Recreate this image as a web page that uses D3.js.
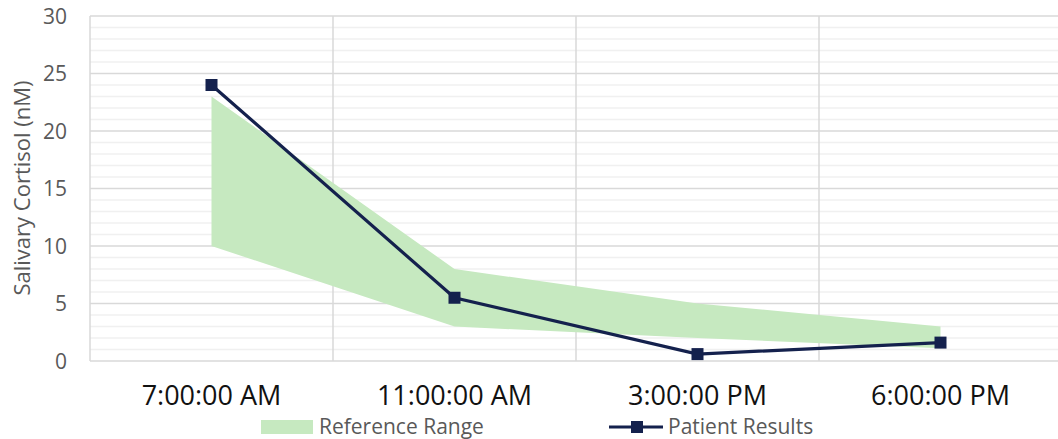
<!DOCTYPE html>
<html>
<head>
<meta charset="utf-8">
<script src="https://cdn.jsdelivr.net/npm/d3@7"></script>
<style>
  body { margin: 0; background: #fff; }
  svg { display: block; font-family: "Open Sans", "Noto Sans", sans-serif; }
</style>
</head>
<body>
<svg id="chart" width="1058" height="439"></svg>
<script>
const times = ['7:00:00 AM', '11:00:00 AM', '3:00:00 PM', '6:00:00 PM']
const refLow = [10, 3, 2, 1.1]
const refHigh = [23, 8, 5, 3]
const patient = [24, 5.5, 0.6, 1.6]
const yTicks = [0, 5, 10, 15, 20, 25, 30]

const svg = d3.select('#chart')
const plotLeft = 90, plotRight = 1062, plotTop = 16, plotBottom = 361

const x = d3.scaleBand().domain(times).range([plotLeft, plotRight])
const y = d3.scaleLinear().domain([0, 30]).range([plotBottom, plotTop])
const cx = t => x(t) + x.bandwidth() / 2

// minor grid
svg.append('g')
    .selectAll('line')
    .data(d3.range(0, 31).filter(v => v % 5 !== 0))
    .join('line')
    .attr('x1', plotLeft).attr('x2', 1058)
    .attr('y1', d => y(d)).attr('y2', d => y(d))
    .attr('stroke', '#f0f0f0').attr('stroke-width', 1.5)

// major grid
svg.append('g')
    .selectAll('line')
    .data(yTicks)
    .join('line')
    .attr('x1', plotLeft).attr('x2', 1058)
    .attr('y1', d => y(d)).attr('y2', d => y(d))
    .attr('stroke', '#d9d9d9').attr('stroke-width', 1.5)

// vertical grid at category boundaries
svg.append('g')
    .selectAll('line')
    .data(times)
    .join('line')
    .attr('x1', d => x(d)).attr('x2', d => x(d))
    .attr('y1', plotTop).attr('y2', plotBottom)
    .attr('stroke', '#d9d9d9').attr('stroke-width', 1.5)

// reference range band
const area = d3.area()
    .x((d, i) => cx(times[i]))
    .y0((d, i) => y(refLow[i]))
    .y1((d, i) => y(refHigh[i]))
svg.append('path')
    .datum(times)
    .attr('d', area)
    .attr('fill', '#c6e9c0')

// patient line
const line = d3.line()
    .x((d, i) => cx(times[i]))
    .y(d => y(d))
svg.append('path')
    .datum(patient)
    .attr('d', line)
    .attr('fill', 'none')
    .attr('stroke', '#14214d')
    .attr('stroke-width', 3.2)

svg.append('g')
    .selectAll('rect')
    .data(patient)
    .join('rect')
    .attr('x', (d, i) => cx(times[i]) - 6)
    .attr('y', d => y(d) - 6)
    .attr('width', 12).attr('height', 12)
    .attr('fill', '#14214d')

// y tick labels
svg.append('g')
    .selectAll('text')
    .data(yTicks)
    .join('text')
    .attr('x', 67)
    .attr('y', d => y(d))
    .attr('dy', '0.36em')
    .attr('text-anchor', 'end')
    .attr('fill', '#595959')
    .attr('font-size', 21)
    .text(d => d)

// x tick labels
svg.append('g')
    .selectAll('text')
    .data(times)
    .join('text')
    .attr('x', d => cx(d))
    .attr('y', 405)
    .attr('text-anchor', 'middle')
    .attr('fill', '#111')
    .attr('font-size', 27)
    .text(d => d)

// y axis title
svg.append('text')
    .attr('transform', 'translate(30,188) rotate(-90)')
    .attr('text-anchor', 'middle')
    .attr('fill', '#595959')
    .attr('font-size', 22)
    .text('Salivary Cortisol (nM)')

// legend
const lg = svg.append('g')
lg.append('rect')
    .attr('x', 261).attr('y', 420).attr('width', 52).attr('height', 14)
    .attr('fill', '#c6e9c0')
lg.append('text')
    .attr('x', 319).attr('y', 434)
    .attr('fill', '#595959').attr('font-size', 21)
    .text('Reference Range')
lg.append('line')
    .attr('x1', 609).attr('x2', 663).attr('y1', 427).attr('y2', 427)
    .attr('stroke', '#14214d').attr('stroke-width', 3.2)
lg.append('rect')
    .attr('x', 631).attr('y', 421).attr('width', 12).attr('height', 12)
    .attr('fill', '#14214d')
lg.append('text')
    .attr('x', 668).attr('y', 434)
    .attr('fill', '#595959').attr('font-size', 21)
    .text('Patient Results')
</script>
</body>
</html>
